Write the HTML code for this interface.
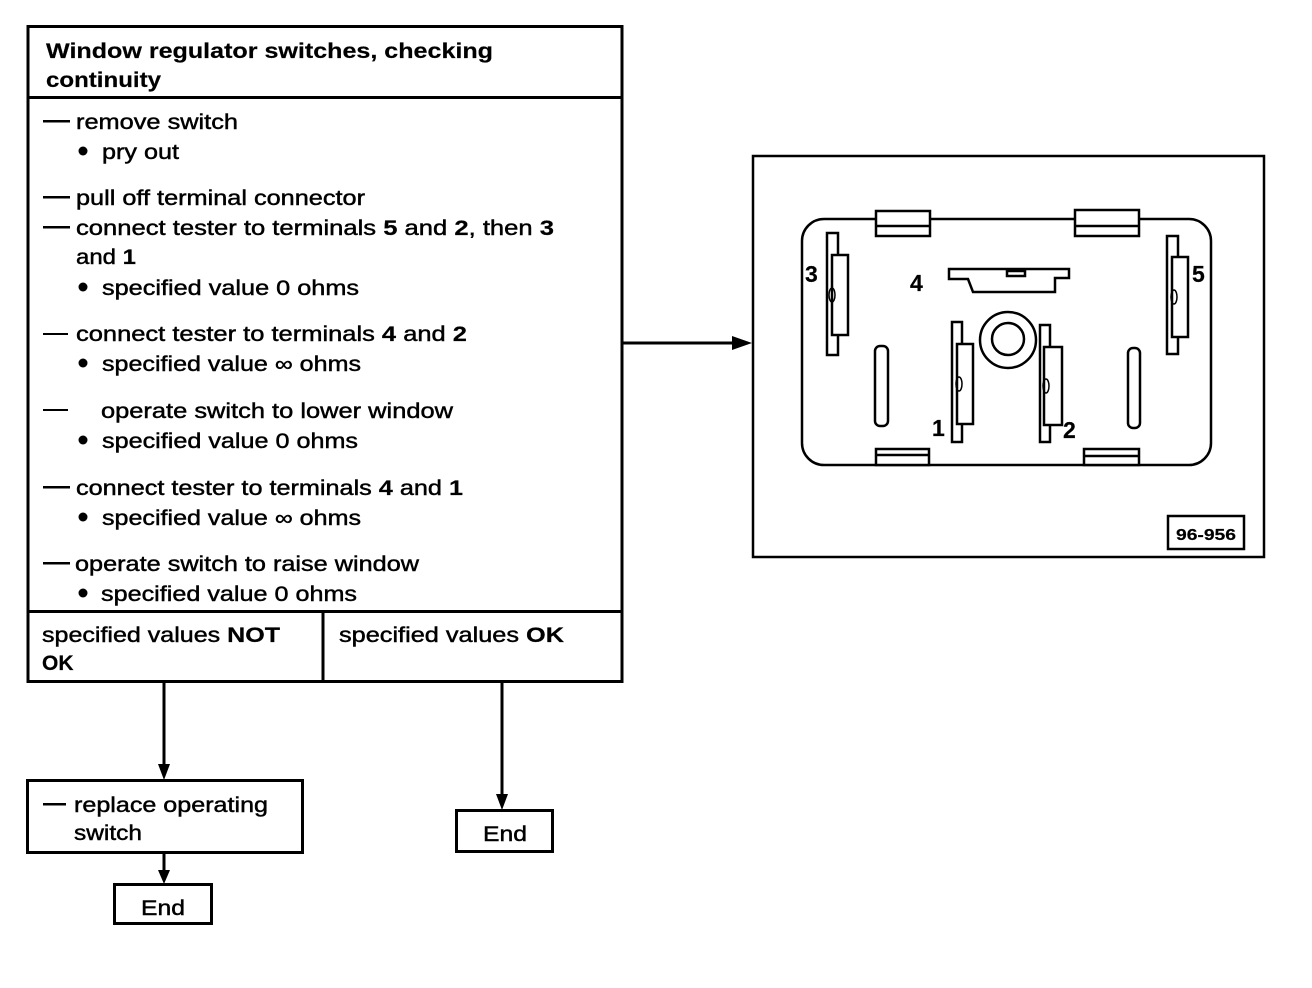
<!DOCTYPE html>
<html><head><meta charset="utf-8"><style>
html,body{margin:0;padding:0;background:#fff;}
svg{display:block;}
text{font-family:"Liberation Sans",sans-serif;font-size:21px;fill:#000;stroke:#000;stroke-width:0.45;}
.b{font-weight:bold;stroke-width:0.2;}
</style></head><body>
<svg width="1312" height="988" viewBox="0 0 1312 988" xmlns="http://www.w3.org/2000/svg">
<g fill="none" stroke="#000" stroke-width="3">
<rect x="28" y="26.5" width="594" height="655"/>
<line x1="28" y1="97.5" x2="622" y2="97.5"/>
<line x1="28" y1="611.5" x2="622" y2="611.5"/>
<line x1="323" y1="611" x2="323" y2="681"/>
<line x1="622" y1="343" x2="740" y2="343"/>
<line x1="164" y1="681" x2="164" y2="766"/>
<line x1="502" y1="681" x2="502" y2="796"/>
<line x1="164" y1="852" x2="164" y2="871"/>
<rect x="27.5" y="780.5" width="275" height="72"/>
<rect x="114.5" y="884.5" width="97" height="39"/>
<rect x="456.5" y="810.5" width="96" height="41"/>
<rect x="753" y="156" width="511" height="401" stroke-width="2.5"/>
</g>
<g fill="#000">
<polygon points="732,336 752,343 732,350"/>
<polygon points="158,764 170,764 164,780"/>
<polygon points="496,794 508,794 502,810"/>
<polygon points="158,870 170,870 164,884"/>
</g>
<!-- text -->
<text class="b" x="46" y="58" textLength="447" lengthAdjust="spacingAndGlyphs">Window regulator switches, checking</text>
<text class="b" x="46" y="87" textLength="115" lengthAdjust="spacingAndGlyphs">continuity</text>
<g fill="#000">
<rect x="43" y="120" width="27" height="2.5"/>
<rect x="43" y="196" width="27" height="2.5"/>
<rect x="43" y="226" width="27" height="2.5"/>
<rect x="43" y="333" width="25" height="2"/>
<rect x="43" y="409" width="25" height="2"/>
<rect x="43" y="486" width="27" height="2.5"/>
<rect x="43" y="562" width="27" height="2.5"/>
<rect x="43" y="803" width="23" height="2.5"/>
<circle cx="83" cy="151" r="4.5"/>
<circle cx="83" cy="287" r="4.5"/>
<circle cx="83" cy="363" r="4.5"/>
<circle cx="83" cy="440" r="4.5"/>
<circle cx="83" cy="517" r="4.5"/>
<circle cx="83" cy="593" r="4.5"/>
</g>
<text x="76" y="129" textLength="162" lengthAdjust="spacingAndGlyphs">remove switch</text>
<text x="102" y="159" textLength="77" lengthAdjust="spacingAndGlyphs">pry out</text>
<text x="76" y="205" textLength="289" lengthAdjust="spacingAndGlyphs">pull off terminal connector</text>
<text x="76" y="235" textLength="478" lengthAdjust="spacingAndGlyphs">connect tester to terminals <tspan class="b">5</tspan> and <tspan class="b">2</tspan>, then <tspan class="b">3</tspan></text>
<text x="76" y="264" textLength="60" lengthAdjust="spacingAndGlyphs">and <tspan class="b">1</tspan></text>
<text x="102" y="295" textLength="257" lengthAdjust="spacingAndGlyphs">specified value 0 ohms</text>
<text x="76" y="341" textLength="391" lengthAdjust="spacingAndGlyphs">connect tester to terminals <tspan class="b">4</tspan> and <tspan class="b">2</tspan></text>
<text x="102" y="371" textLength="259" lengthAdjust="spacingAndGlyphs">specified value ∞ ohms</text>
<text x="101" y="418" textLength="352" lengthAdjust="spacingAndGlyphs">operate switch to lower window</text>
<text x="102" y="448" textLength="256" lengthAdjust="spacingAndGlyphs">specified value 0 ohms</text>
<text x="76" y="495" textLength="387" lengthAdjust="spacingAndGlyphs">connect tester to terminals <tspan class="b">4</tspan> and <tspan class="b">1</tspan></text>
<text x="102" y="525" textLength="259" lengthAdjust="spacingAndGlyphs">specified value ∞ ohms</text>
<text x="75" y="571" textLength="344" lengthAdjust="spacingAndGlyphs">operate switch to raise window</text>
<text x="101" y="601" textLength="256" lengthAdjust="spacingAndGlyphs">specified value 0 ohms</text>
<text x="42" y="642" textLength="238" lengthAdjust="spacingAndGlyphs">specified values <tspan class="b">NOT</tspan></text>
<text class="b" x="42" y="670">OK</text>
<text x="339" y="642" textLength="225" lengthAdjust="spacingAndGlyphs">specified values <tspan class="b">OK</tspan></text>
<text x="74" y="812" textLength="194" lengthAdjust="spacingAndGlyphs">replace operating</text>
<text x="74" y="840" textLength="68" lengthAdjust="spacingAndGlyphs">switch</text>
<text x="141" y="915" textLength="44" lengthAdjust="spacingAndGlyphs">End</text>
<text x="483" y="841" textLength="44" lengthAdjust="spacingAndGlyphs">End</text>
<!-- connector drawing -->
<g fill="#fff" stroke="#000" stroke-width="2.5">
<rect x="802" y="219" width="409" height="246" rx="22"/>
<rect x="876" y="211" width="54" height="25"/>
<line x1="876" y1="226" x2="930" y2="226"/>
<rect x="1075" y="210" width="64" height="26"/>
<line x1="1075" y1="226" x2="1139" y2="226"/>
<rect x="876" y="449" width="53" height="16"/>
<line x1="876" y1="455" x2="929" y2="455"/>
<rect x="1084" y="449" width="55" height="16"/>
<line x1="1084" y1="456" x2="1139" y2="456"/>
<rect x="827" y="233" width="11" height="122"/>
<rect x="832" y="255" width="16" height="80"/>
<rect x="1167" y="236" width="11" height="118"/>
<rect x="1172" y="257" width="16" height="80"/>
<polygon points="949,269 1069,269 1069,278 1055,278 1055,292 973,292 968,279 949,279"/>
<rect x="1007" y="271" width="18" height="5"/>
<circle cx="1008" cy="340" r="28"/>
<circle cx="1008" cy="339" r="16"/>
<rect x="952" y="322" width="10" height="120"/>
<rect x="957" y="344" width="16" height="80"/>
<rect x="1040" y="325" width="10" height="117"/>
<rect x="1044" y="347" width="18" height="78"/>
<rect x="875" y="346" width="13" height="80" rx="5"/>
<rect x="1128" y="348" width="12" height="80" rx="5"/>
<rect x="1168" y="516" width="76" height="33"/>
</g>
<g fill="none" stroke="#000" stroke-width="1.5">
<ellipse cx="832" cy="295" rx="3" ry="7"/>
<ellipse cx="1174" cy="297" rx="3" ry="7"/>
<ellipse cx="959" cy="384" rx="3" ry="7"/>
<ellipse cx="1046" cy="386" rx="3" ry="7"/>
</g>
<text class="b" x="805" y="282" style="font-size:23px">3</text>
<text class="b" x="1192" y="282" style="font-size:23px">5</text>
<text class="b" x="910" y="291" style="font-size:23px">4</text>
<text class="b" x="932" y="436" style="font-size:23px">1</text>
<text class="b" x="1063" y="438" style="font-size:23px">2</text>
<text class="b" x="1176" y="540" style="font-size:16px" textLength="60" lengthAdjust="spacingAndGlyphs">96-956</text>
</svg>
</body></html>
